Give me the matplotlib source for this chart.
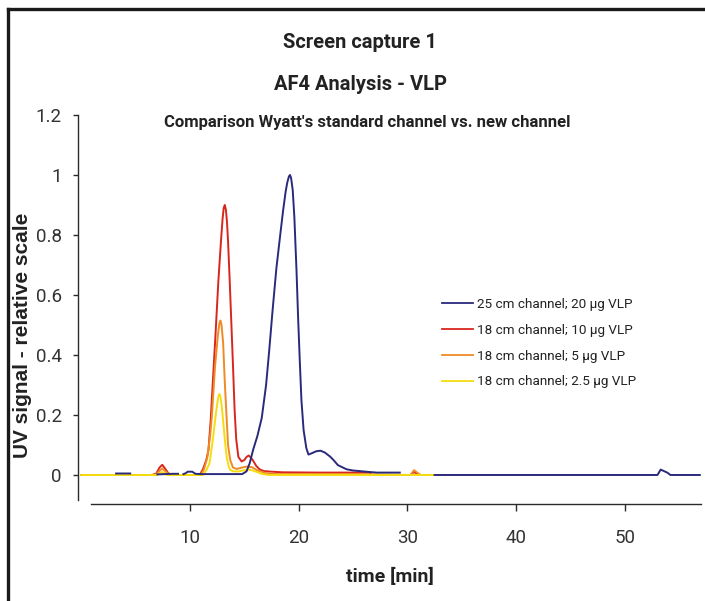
import numpy as np
import matplotlib
matplotlib.use("Agg")
import matplotlib.pyplot as plt
from matplotlib.lines import Line2D

# ---------------- data ----------------
nan = float("nan")
blue_x = [3.2, 4.5, nan, 7.0, 8.4, 8.9, nan, 9.4, 9.6, 9.8, 10.2, 10.5, 11.0, 14.8, 15.2, 15.5, 15.8,
          16.2, 16.6, 17.0, 17.3, 17.6, 17.95, 18.3, 18.56, 18.8, 18.95, 19.1, 19.2, 19.3, 19.45, 19.6, 19.8,
          19.94, 20.1, 20.25, 20.45, 20.7, 20.9, 21.3, 21.6, 22.0, 22.4, 22.9, 23.2, 23.6, 24.0,
          24.4, 25.0, 25.6, 26.5, 27.2, 29.3, nan, 32.5, 53.0, 53.3, 53.6, 53.9, 54.2, 56.9]
blue_y = [0.005, 0.005, nan, 0.002, 0.004, 0.004, nan, 0.003, 0.006, 0.011, 0.011, 0.004, 0.003, 0.003, 0.012, 0.04, 0.083,
          0.13, 0.19, 0.30, 0.42, 0.55, 0.69, 0.80, 0.88, 0.945, 0.975, 0.995, 1.0, 0.99, 0.95, 0.86, 0.68,
          0.53, 0.38, 0.25, 0.15, 0.09, 0.068, 0.074, 0.079, 0.081, 0.075, 0.061, 0.050, 0.033, 0.026,
          0.019, 0.015, 0.013, 0.010, 0.008, 0.008, nan, 0.0, 0.0, 0.018, 0.013, 0.008, 0.0, 0.0]

red_x = [0.0, 6.5, 6.9, 7.2, 7.45, 7.7, 8.0, 8.3, 10.9, 11.2, 11.5, 11.7, 11.9, 12.1, 12.35, 12.6,
         12.85, 13.0, 13.1, 13.2, 13.3, 13.4, 13.5, 13.65, 13.8, 13.95, 14.1, 14.25, 14.45, 14.75, 15.0, 15.2,
         15.4, 15.6, 15.8, 16.1, 16.4, 16.8, 17.5, 18.5, 22.0, 26.5, 26.7, 30.3, 30.6, 30.9, 31.2, 32.0]
red_y = [0.0, 0.0, 0.005, 0.025, 0.034, 0.022, 0.006, 0.0, 0.0, 0.02, 0.05, 0.083, 0.18, 0.31, 0.47, 0.64,
         0.78, 0.855, 0.89, 0.90, 0.885, 0.845, 0.78, 0.65, 0.51, 0.37, 0.22, 0.12, 0.06, 0.045, 0.05, 0.06,
         0.065, 0.058, 0.048, 0.030, 0.019, 0.013, 0.011, 0.009, 0.008, 0.008, 0.0, 0.0, 0.01, 0.004, 0.0, 0.0]

orange_x = [0.0, 6.8, 7.1, 7.45, 7.8, 8.2, 11.0, 11.3, 11.6, 11.85, 12.0, 12.3, 12.55, 12.7, 12.8, 12.9,
            13.05, 13.2, 13.37, 13.5, 13.7, 13.95, 14.3, 14.7, 15.2, 15.7, 16.2, 17.0, 18.0, 25.0,
            30.3, 30.6, 30.9, 31.2, 32.0]
orange_y = [0.0, 0.0, 0.01, 0.022, 0.01, 0.0, 0.0, 0.02, 0.06, 0.13, 0.19, 0.36, 0.46, 0.505, 0.515, 0.50,
            0.44, 0.31, 0.19, 0.10, 0.05, 0.025, 0.02, 0.024, 0.028, 0.026, 0.015, 0.006, 0.003, 0.003,
            0.0, 0.016, 0.008, 0.0, 0.0]

yellow_x = [0.0, 7.0, 7.45, 7.9, 11.2, 11.5, 11.8, 12.1, 12.4, 12.6, 12.7, 12.8, 12.95, 13.1, 13.25, 13.4, 13.55,
            13.7, 14.0, 14.5, 15.0, 15.5, 16.0, 16.6, 17.2, 32.8]
yellow_y = [0.0, 0.0, 0.01, 0.0, 0.0, 0.015, 0.04, 0.117, 0.21, 0.26, 0.27, 0.262, 0.22, 0.16, 0.10, 0.055, 0.03,
            0.017, 0.012, 0.012, 0.016, 0.018, 0.012, 0.004, 0.0, 0.0]

series_labels = ["25 cm channel; 20 µg VLP", "18 cm channel; 10 µg VLP",
                 "18 cm channel; 5 µg VLP", "18 cm channel; 2.5 µg VLP"]
y_ticks = [0, 0.2, 0.4, 0.6, 0.8, 1.0, 1.2]
y_ticklabels = ["0", "0.2", "0.4", "0.6", "0.8", "1", "1.2"]
x_ticks = [10, 20, 30, 40, 50]
x_ticklabels = ["10", "20", "30", "40", "50"]

# ---------------- style ----------------
NARROW = ["Roboto", "DejaVu Sans"]
SANS = ["Liberation Sans", "DejaVu Sans"]
c_blue = "#2a2a7c"
c_red = "#d8261c"
c_orange = "#f08a24"
c_yellow = "#f5dc10"
axc = "#2a2a2a"

W, H = 705, 601
fig = plt.figure(figsize=(W / 100, H / 100), dpi=100)

ax_left, ax_right, ax_top, ax_bottom = 77.7, 702.0, 115.0, 504.0
ax = fig.add_axes([ax_left / W, 1 - ax_bottom / H, (ax_right - ax_left) / W, (ax_bottom - ax_top) / H])

lw = 1.4
ax.plot(red_x, red_y, color=c_red, lw=lw, zorder=3)
ax.plot(orange_x, orange_y, color=c_orange, lw=lw, zorder=4)
ax.plot(yellow_x, yellow_y, color=c_yellow, lw=lw, zorder=5)
ax.plot(blue_x, blue_y, color=c_blue, lw=lw, zorder=6)

ax.set_xlim(-0.33, 57.1)
ax.set_ylim(-0.0967, 1.2)

for s in ["top", "right"]:
    ax.spines[s].set_visible(False)
ax.spines["left"].set_bounds(-0.083, 1.2)
ax.spines["bottom"].set_bounds(0.9, 57.0)
for s in ["left", "bottom"]:
    ax.spines[s].set_color(axc)
    ax.spines[s].set_linewidth(1.0)

ax.set_yticks(y_ticks)
ax.set_yticklabels(y_ticklabels)
ax.set_xticks(x_ticks)
ax.set_xticklabels(x_ticklabels)
ax.tick_params(axis="y", direction="out", length=3.5, width=1.0, color=axc, pad=8,
               labelsize=13.5, labelcolor="#333333")
ax.tick_params(axis="x", direction="out", length=5, width=1.0, color=axc, pad=13,
               labelsize=13.5, labelcolor="#333333")
for lab in ax.get_xticklabels() + ax.get_yticklabels():
    lab.set_family(NARROW)

# legend
handles = [Line2D([], [], color=c, lw=1.3) for c in [c_blue, c_red, c_orange, c_yellow]]
leg = ax.legend(handles, series_labels, loc="upper left",
                bbox_to_anchor=(442 / W, 1 - 298 / H), bbox_transform=fig.transFigure,
                frameon=False, borderpad=0, borderaxespad=0, handlelength=2.3,
                handletextpad=0.3, labelspacing=0.95,
                prop={"family": NARROW, "size": 9.7})
for t in leg.get_texts():
    t.set_color("#222222")

# titles and axis labels
fig.text(360 / W, 1 - 42 / H, "Screen capture 1", ha="center", va="center",
         family=NARROW, fontsize=14.5, fontweight="bold", color="#222222")
fig.text(360 / W, 1 - 85 / H, "AF4 Analysis - VLP", ha="center", va="center",
         family=NARROW, fontsize=14.5, fontweight="bold", color="#222222")
fig.text(367 / W, 1 - 123 / H, "Comparison Wyatt's standard channel vs. new channel", ha="center",
         va="center", family=NARROW, fontsize=12, fontweight="bold", color="#222222")
fig.text(23 / W, 1 - 335 / H, "UV signal - relative scale", ha="center", va="center", rotation=90,
         family=SANS, fontsize=15, fontweight="bold", color="#222222")
fig.text(390 / W, 1 - 577 / H, "time [min]", ha="center", va="center",
         family=NARROW, fontsize=14, fontweight="bold", color="#222222")

# outer frame (top and left edges)
fig.add_artist(Line2D([8 / W, 1.0], [1 - 9 / H, 1 - 9 / H], transform=fig.transFigure,
                      color="#1a1a1a", lw=2.4))
fig.add_artist(Line2D([8 / W, 8 / W], [0.0, 1 - 9 / H], transform=fig.transFigure,
                      color="#1a1a1a", lw=2.4))

fig.savefig("out.png", dpi=100)
